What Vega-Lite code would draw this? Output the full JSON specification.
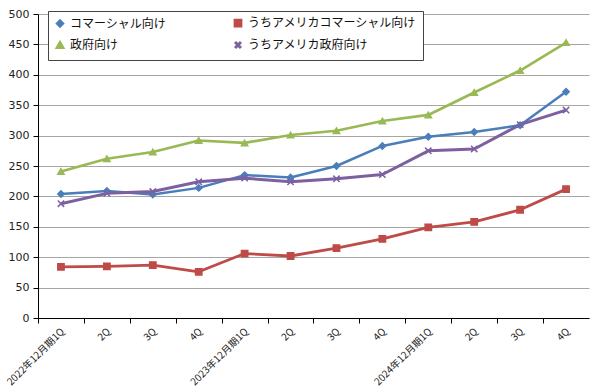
{
  "$schema": "https://vega.github.io/schema/vega-lite/v6.json",
  "width": 551,
  "height": 304,
  "autosize": "none",
  "padding": {"left": 38, "top": 14, "right": 11, "bottom": 74},
  "background": "white",
  "config": {"view": {"stroke": null}},
  "data": {
    "values": [
      {"period": "2022年12月期1Q", "series": "コマーシャル向け", "value": 204},
      {"period": "2022年12月期2Q", "series": "コマーシャル向け", "value": 209},
      {"period": "2022年12月期3Q", "series": "コマーシャル向け", "value": 203},
      {"period": "2022年12月期4Q", "series": "コマーシャル向け", "value": 214},
      {"period": "2023年12月期1Q", "series": "コマーシャル向け", "value": 235},
      {"period": "2023年12月期2Q", "series": "コマーシャル向け", "value": 231},
      {"period": "2023年12月期3Q", "series": "コマーシャル向け", "value": 250},
      {"period": "2023年12月期4Q", "series": "コマーシャル向け", "value": 283},
      {"period": "2024年12月期1Q", "series": "コマーシャル向け", "value": 298},
      {"period": "2024年12月期2Q", "series": "コマーシャル向け", "value": 306},
      {"period": "2024年12月期3Q", "series": "コマーシャル向け", "value": 317},
      {"period": "2024年12月期4Q", "series": "コマーシャル向け", "value": 372},
      {"period": "2022年12月期1Q", "series": "うちアメリカコマーシャル向け", "value": 84},
      {"period": "2022年12月期2Q", "series": "うちアメリカコマーシャル向け", "value": 85},
      {"period": "2022年12月期3Q", "series": "うちアメリカコマーシャル向け", "value": 87},
      {"period": "2022年12月期4Q", "series": "うちアメリカコマーシャル向け", "value": 76},
      {"period": "2023年12月期1Q", "series": "うちアメリカコマーシャル向け", "value": 106},
      {"period": "2023年12月期2Q", "series": "うちアメリカコマーシャル向け", "value": 102},
      {"period": "2023年12月期3Q", "series": "うちアメリカコマーシャル向け", "value": 115},
      {"period": "2023年12月期4Q", "series": "うちアメリカコマーシャル向け", "value": 130},
      {"period": "2024年12月期1Q", "series": "うちアメリカコマーシャル向け", "value": 149},
      {"period": "2024年12月期2Q", "series": "うちアメリカコマーシャル向け", "value": 158},
      {"period": "2024年12月期3Q", "series": "うちアメリカコマーシャル向け", "value": 178},
      {"period": "2024年12月期4Q", "series": "うちアメリカコマーシャル向け", "value": 212},
      {"period": "2022年12月期1Q", "series": "政府向け", "value": 241},
      {"period": "2022年12月期2Q", "series": "政府向け", "value": 262},
      {"period": "2022年12月期3Q", "series": "政府向け", "value": 273},
      {"period": "2022年12月期4Q", "series": "政府向け", "value": 292},
      {"period": "2023年12月期1Q", "series": "政府向け", "value": 288},
      {"period": "2023年12月期2Q", "series": "政府向け", "value": 301},
      {"period": "2023年12月期3Q", "series": "政府向け", "value": 308},
      {"period": "2023年12月期4Q", "series": "政府向け", "value": 324},
      {"period": "2024年12月期1Q", "series": "政府向け", "value": 334},
      {"period": "2024年12月期2Q", "series": "政府向け", "value": 371},
      {"period": "2024年12月期3Q", "series": "政府向け", "value": 407},
      {"period": "2024年12月期4Q", "series": "政府向け", "value": 453},
      {"period": "2022年12月期1Q", "series": "うちアメリカ政府向け", "value": 188},
      {"period": "2022年12月期2Q", "series": "うちアメリカ政府向け", "value": 205},
      {"period": "2022年12月期3Q", "series": "うちアメリカ政府向け", "value": 208},
      {"period": "2022年12月期4Q", "series": "うちアメリカ政府向け", "value": 224},
      {"period": "2023年12月期1Q", "series": "うちアメリカ政府向け", "value": 230},
      {"period": "2023年12月期2Q", "series": "うちアメリカ政府向け", "value": 224},
      {"period": "2023年12月期3Q", "series": "うちアメリカ政府向け", "value": 229},
      {"period": "2023年12月期4Q", "series": "うちアメリカ政府向け", "value": 236},
      {"period": "2024年12月期1Q", "series": "うちアメリカ政府向け", "value": 275},
      {"period": "2024年12月期2Q", "series": "うちアメリカ政府向け", "value": 278},
      {"period": "2024年12月期3Q", "series": "うちアメリカ政府向け", "value": 318},
      {"period": "2024年12月期4Q", "series": "うちアメリカ政府向け", "value": 342}
    ]
  },
  "encoding": {
    "x": {
      "field": "period",
      "type": "ordinal",
      "sort": null,
      "scale": {"type": "point", "padding": 0.5},
      "axis": {
        "title": null,
        "labelAngle": -45,
        "labelAlign": "right",
        "labelBaseline": "top",
        "labelFont": "Noto Sans CJK JP",
        "labelFontSize": 10,
        "labelColor": "#222",
        "labelPadding": 3,
        "labelExpr": "slice(datum.value, -2) === '1Q' ? datum.value : slice(datum.value, -2)",
        "tickOffset": -23,
        "labelOffset": 21,
        "domainColor": "#000",
        "tickColor": "#000",
        "tickSize": 5,
        "grid": false
      }
    },
    "y": {
      "field": "value",
      "type": "quantitative",
      "scale": {"domain": [0, 500], "nice": false},
      "axis": {
        "title": null,
        "values": [0, 50, 100, 150, 200, 250, 300, 350, 400, 450, 500],
        "labelFont": "DejaVu Sans",
        "labelFontSize": 11,
        "labelColor": "#222",
        "labelPadding": 4,
        "domainColor": "#000",
        "tickColor": "#000",
        "tickSize": 5,
        "grid": true,
        "gridColor": "#a6a6a6",
        "gridWidth": 1
      }
    },
    "color": {
      "field": "series",
      "type": "nominal",
      "scale": {
        "domain": ["コマーシャル向け", "政府向け", "うちアメリカコマーシャル向け", "うちアメリカ政府向け"],
        "range": ["#4a7ebb", "#98b954", "#be4b48", "#7d60a0"]
      },
      "legend": {
        "title": null,
        "orient": "none",
        "legendX": 10,
        "legendY": -3,
        "columns": 2,
        "columnPadding": 62,
        "rowPadding": 4,
        "padding": 6,
        "strokeColor": "#444",
        "fillColor": "white",
        "labelFont": "Noto Sans CJK JP",
        "labelFontSize": 12,
        "labelColor": "#111",
        "labelOffset": 4,
        "labelLimit": 300,
        "symbolSize": 35,
        "symbolStrokeWidth": 1.5
      }
    }
  },
  "layer": [
    {
      "mark": {"type": "line", "strokeJoin": "round"},
      "encoding": {
        "strokeWidth": {
          "field": "series",
          "type": "nominal",
          "scale": {
            "domain": ["コマーシャル向け", "政府向け", "うちアメリカコマーシャル向け", "うちアメリカ政府向け"],
            "range": [2.5, 3, 2, 2]
          },
          "legend": null
        }
      }
    },
    {
      "mark": {"type": "point", "filled": true, "opacity": 1, "strokeWidth": 1.5, "size": 40},
      "encoding": {
        "shape": {
          "field": "series",
          "type": "nominal",
          "scale": {
            "domain": ["コマーシャル向け", "政府向け", "うちアメリカコマーシャル向け", "うちアメリカ政府向け"],
            "range": ["diamond", "triangle-up", "square", "M-1,-1L1,1M-1,1L1,-1"]
          },
          "legend": null
        },
        "stroke": {
          "field": "series",
          "type": "nominal",
          "scale": {
            "domain": ["コマーシャル向け", "政府向け", "うちアメリカコマーシャル向け", "うちアメリカ政府向け"],
            "range": ["#4a7ebb", "#98b954", "#be4b48", "#7d60a0"]
          },
          "legend": null
        }
      }
    }
  ]
}
